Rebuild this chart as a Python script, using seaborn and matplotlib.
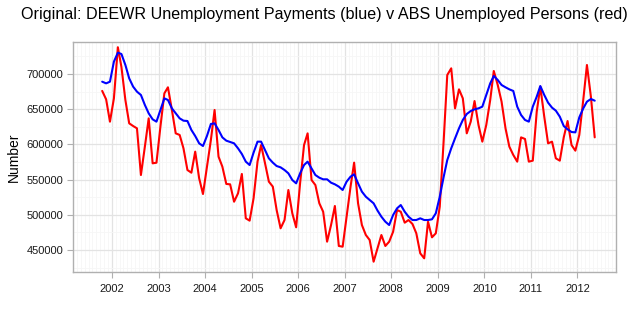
import numpy as np
import pandas as pd
import matplotlib
matplotlib.use("Agg")
import matplotlib.pyplot as plt
import matplotlib.dates as mdates
import seaborn as sns

start_month = "2001-09-16"
n_months = 128

deewr_payments = [
    689100, 686700, 689100, 717500, 730300, 728400, 712800, 693800, 682000, 674900,
    670200, 656000, 644100, 635600, 632300, 648900, 665400, 663100, 651200, 644100,
    637000, 633700, 633200, 620500, 611900, 601500, 597700, 611900, 629000, 629900,
    620500, 610000, 605300, 603400, 601500, 594400, 586400, 575500, 570700, 588300,
    603900, 603900, 592000, 580200, 574100, 569300, 567400, 563600, 558900, 549400,
    544700, 558900, 570700, 575500, 566000, 556500, 552700, 550400, 550400, 545600,
    543300, 540000, 535200, 547100, 554200, 557500, 544700, 532900, 525700, 521000,
    516300, 505900, 497300, 490200, 485500, 499700, 509200, 513900, 504400, 497300,
    492600, 492600, 495000, 492600, 492600, 493600, 502100, 525700, 554200, 577800,
    594400, 608600, 622800, 634700, 643200, 647400, 649800, 651200, 653600, 670200,
    686700, 697200, 691500, 684400, 681100, 678200, 675900, 653600, 641800, 634700,
    632300, 653600, 667800, 682900, 670200, 659300, 652200, 647900, 639400, 626100,
    621400, 617600, 617100, 638400, 651200, 660700, 664500, 662100,
]

abs_unemployed = [
    676000, 664000, 632300, 665400, 738000, 710000, 663100, 629900, 626100, 622800,
    556500, 596800, 637000, 573100, 574000, 625200, 672500, 681100, 648900, 615700,
    613400, 594400, 563600, 559800, 589700, 551800, 529500, 568400, 606200, 648900,
    582600, 568400, 543800, 543300, 518600, 530500, 558000, 495000, 491700, 523400,
    575500, 599100, 573100, 547100, 540000, 506800, 480800, 492600, 535200, 502100,
    482200, 544700, 599100, 615700, 549400, 542300, 516300, 504400, 461800, 485500,
    512500, 455700, 454700, 497300, 540000, 574100, 516300, 485500, 471300, 464200,
    433400, 452400, 471300, 455700, 461800, 476000, 506800, 504400, 488800, 492600,
    486900, 473700, 445250, 438200, 490200, 468000, 473700, 511500, 606250, 698600,
    708050, 651200, 678200, 665400, 615700, 632300, 661600, 627550, 603900, 627550,
    663100, 704300, 684400, 660700, 622800, 596800, 585000, 575500, 610000, 607700,
    575500, 576900, 646500, 682000, 639400, 601500, 603900, 580200, 576900, 610000,
    633200, 599100, 591100, 613400, 663100, 712800, 667800, 610000,
]

year_ticks = list(range(2002, 2013))
y_ticks = [450000, 500000, 550000, 600000, 650000, 700000]

dates = pd.date_range(start_month, periods=n_months, freq="MS") + pd.Timedelta(days=15)
df = pd.DataFrame({"date": dates, "payments": deewr_payments, "unemployed": abs_unemployed})

sns.set_theme(style="white")
plt.rcParams["font.family"] = ["Liberation Sans", "DejaVu Sans"]

fig = plt.figure(figsize=(6.4, 3.2), dpi=100)
ax = fig.add_axes([73 / 640, 1 - 272 / 320, (616 - 73) / 640, (272 - 42) / 320])

sns.lineplot(data=df, x="date", y="unemployed", color="#FF0000", linewidth=1.5, ax=ax)
sns.lineplot(data=df, x="date", y="payments", color="#0000FF", linewidth=1.5, ax=ax)

ax.set_xlim(pd.Timestamp("2001-03-01"), pd.Timestamp("2012-10-30"))
ax.set_ylim(418750, 745450)

ax.xaxis.set_major_locator(mdates.YearLocator())
ax.xaxis.set_major_formatter(mdates.DateFormatter("%Y"))
ax.xaxis.set_minor_locator(mdates.MonthLocator())
ax.set_yticks(y_ticks)
ax.set_yticklabels([str(v) for v in y_ticks])
ax.set_yticks([v + 25000 for v in [400000] + y_ticks], minor=True)

ax.grid(True, which="major", color="#E3E3E3", linewidth=0.9)
ax.grid(True, which="minor", color="#F6F6F6", linewidth=0.6)
ax.set_axisbelow(True)

for s in ax.spines.values():
    s.set_color("#B0B0B0")
    s.set_linewidth(1.0)

ax.tick_params(axis="both", which="major", length=4, width=0.8, color="#B0B0B0",
               labelsize=8, labelcolor="#1A1A1A", pad=3, bottom=True, left=True)
ax.tick_params(axis="x", which="major", pad=5)
ax.tick_params(axis="both", which="minor", length=0)

ax.set_xlabel("")
ax.set_ylabel("Number", fontsize=10, color="black", labelpad=4)
fig.suptitle("Original: DEEWR Unemployment Payments (blue) v ABS Unemployed Persons (red)",
             x=0.507, y=0.955, fontsize=11.6, color="black", va="center")

fig.savefig("out.png", dpi=100, facecolor="white")
